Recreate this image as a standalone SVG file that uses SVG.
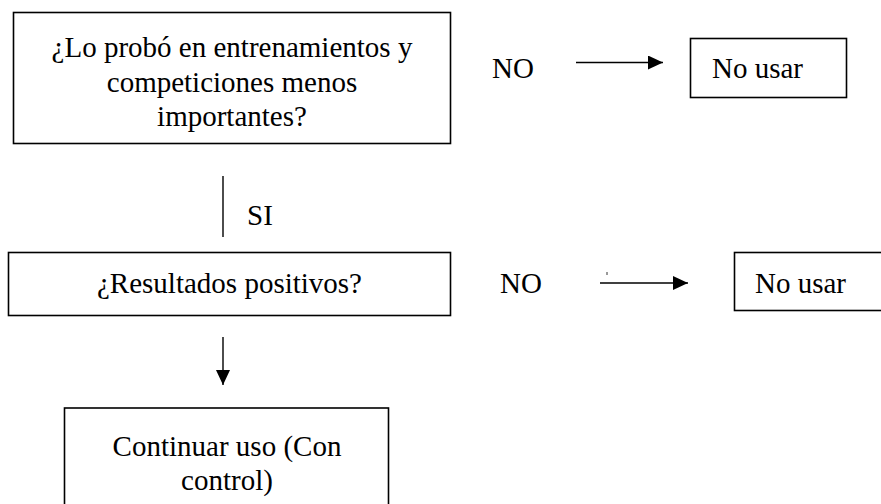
<svg xmlns="http://www.w3.org/2000/svg" width="881" height="504" viewBox="0 0 881 504">
<style>
.box{fill:#fff;stroke:#000;stroke-width:1.6}
.t{font-family:'Times New Roman','Liberation Serif',serif;font-size:29px;fill:#000}
.c{text-anchor:middle}
.ln{stroke:#000;stroke-width:1.4;fill:none}
</style>
<defs>
<marker id="ah" markerWidth="15" markerHeight="14" refX="15" refY="7" orient="auto" markerUnits="userSpaceOnUse">
<path d="M0,0 L15,7 L0,14 Z" fill="#000"/>
</marker>
</defs>
<rect width="881" height="504" fill="#fff"/>
<g id="q1">
<rect class="box" x="13.5" y="12.5" width="437" height="131"/>
<text class="t c" x="232" y="57">¿Lo probó en entrenamientos y</text>
<text class="t c" x="232" y="92">competiciones menos</text>
<text class="t c" x="232" y="126">importantes?</text>
</g>
<g id="no1">
<rect class="box" x="690.5" y="38.5" width="156" height="59"/>
<text class="t" x="712" y="78">No usar</text>
</g>
<g id="q2">
<rect class="box" x="8.5" y="252.5" width="442" height="63"/>
<text class="t c" x="229.5" y="293">¿Resultados positivos?</text>
</g>
<g id="no2">
<rect class="box" x="734.5" y="252.5" width="160" height="58"/>
<text class="t" x="755" y="293">No usar</text>
</g>
<g id="cont">
<rect class="box" x="64.5" y="408" width="324" height="110"/>
<text class="t c" x="227" y="456">Continuar uso (Con</text>
<text class="t c" x="227" y="490">control)</text>
</g>
<g id="connectors">
<text class="t" x="492" y="78">NO</text>
<line class="ln" x1="576" y1="62.5" x2="663" y2="62.5" marker-end="url(#ah)"/>
<line class="ln" x1="223" y1="176" x2="223" y2="237"/>
<text class="t" x="247" y="225">SI</text>
<text class="t" x="500" y="293">NO</text>
<line class="ln" x1="600" y1="283" x2="688" y2="283" marker-end="url(#ah)"/>
<line x1="607" y1="272" x2="607" y2="275" stroke="#000" stroke-width="0.8"/>
<line class="ln" x1="223" y1="337" x2="223" y2="385" marker-end="url(#ah)"/>
</g>
</svg>
